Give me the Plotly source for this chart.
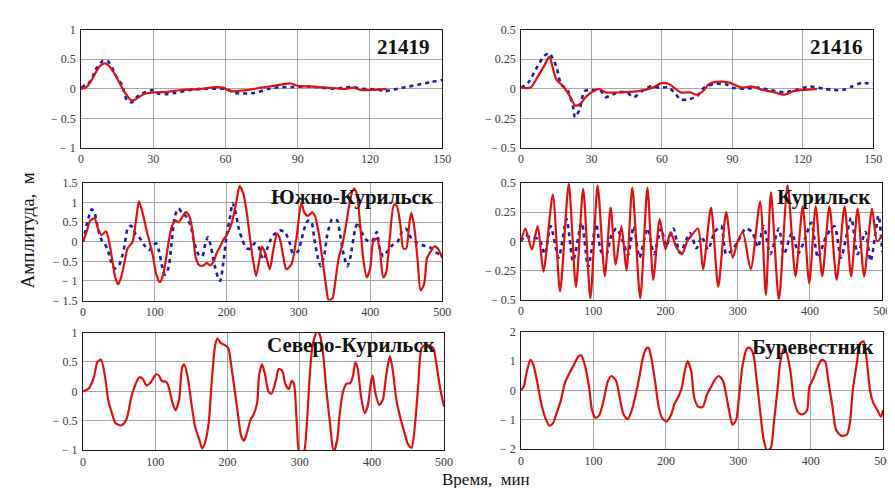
import plotly.graph_objects as go

# ---------------- data (time, amplitude) ----------------
# 21419 (t 0..150 min)
p21419_model = [(0,0),(2,0.02),(4,0.12),(6,0.27),(8,0.39),(10,0.43),(12,0.37),(14,0.25),(16,0.1),(18,-0.05),
                (21,-0.2),(23,-0.17),(26,-0.09),(30,-0.06),(36,-0.05),(42,-0.02),(50,0),(56,0.03),(59,0.02),
                (62,-0.04),(67,-0.03),(75,0.02),(80,0.05),(87,0.09),(90,0.05),(95,0.04),(102,0.02),(110,0),
                (113,0.02),(116,-0.02),(121,-0.02),(127,0)]
p21419_obs = [(0,0.02),(4,0.13),(6,0.32),(9,0.47),(11,0.47),(13,0.35),(15,0.18),(17,0.07),(19,-0.19),(21,-0.23),
              (24,-0.11),(30,-0.02),(32,-0.08),(35,-0.09),(39,-0.07),(45,-0.02),(50,0),(56,0),(60,0),(64,-0.07),
              (67,-0.08),(72,-0.07),(78,0),(83,0.03),(88,0.03),(94,0.04),(100,0.02),(105,0),(112,0.03),(117,0),
              (123,-0.01),(126,-0.04),(130,-0.01),(135,0.03),(140,0.07),(145,0.11),(150,0.15)]

# 21416 (t 0..150 min)
p21416_model = [(0,0.01),(4,0.01),(7,0.1),(10,0.2),(12,0.27),(15,0.08),(18,0.02),(21,-0.07),(23,-0.14),(25,-0.13),
                (28,-0.06),(33,0.0),(36,-0.03),(42,-0.03),(50,-0.02),(56,0.01),(60,0.05),(63,0.04),(68,-0.03),
                (72,-0.03),(75,-0.05),(78,-0.01),(80,0.04),(85,0.06),(89,0.05),(94,0.01),(98,0.02),(103,-0.01),
                (108,-0.03),(112,-0.05),(116,-0.02),(120,-0.01),(126,0)]
p21416_obs = [(0,0.01),(3,0.05),(7,0.19),(10,0.28),(12,0.3),(15,0.19),(17,0.04),(20,-0.02),(22,-0.14),(23,-0.24),
              (25,-0.17),(27,-0.02),(30,-0.01),(34,-0.02),(36,-0.07),(41,-0.03),(45,-0.03),(48,-0.07),(52,-0.01),
              (55,0.02),(59,0.01),(63,0.01),(66,-0.05),(68,-0.09),(71,-0.09),(75,-0.06),(78,0.01),(82,0.04),
              (87,0.04),(90,0.01),(95,0),(101,0.01),(106,-0.01),(112,-0.03),(117,-0.01),(123,0.02),(129,0),
              (133,-0.01),(137,-0.01),(141,0.02),(145,0.05),(150,0.04)]

# Южно-Курильск (t 0..500 min)
yk_model = [(0,0),(5,0.25),(10,0.54),(16,0.6),(21,0.33),(26,0.17),(32,0.27),(36,0.04),(41,-0.5),(45,-0.91),
            (49,-1.09),(53,-0.91),(58,-0.5),(62,-0.17),(69,0),(74,0.58),(78,1.03),(84,0.66),(88,0.33),(92,0.04),
            (97,-0.33),(102,-0.83),(107,-1.03),(111,-0.87),(115,-0.5),(120,0.08),(124,0.41),(129,0.54),(133,0.5),
            (139,0.66),(143,0.76),(148,0.66),(153,0.21),(157,-0.41),(162,-0.6),(168,-0.6),(172,-0.54),(177,-0.6),
            (182,-0.5),(186,-0.29),(191,-0.12),(195,0.04),(200,0.17),(205,0.37),(209,0.62),(214,1.07),(218,1.42),
            (223,1.24),(228,0.74),(232,0.17),(237,-0.5),(241,-0.87),(246,-0.41),(249,-0.12),(254,-0.3),(260,-0.7),
            (265,-0.2),(270,0.21),(274,0.08),(279,-0.4),(283,-0.7),(290,-0.58),(297,0.08),(304,1.0),(308,0.75),
            (313,0.66),(319,0.75),(323,0.66),(328,0.25),(333,-0.41),(338,-1.07),(342,-1.49),(347,-1.45),
            (352,-0.91),(356,-0.41),(361,-0.08),(366,0.41),(372,1.07),(377,1.36),(381,1.24),(386,0.41),(390,-0.41),
            (395,-0.91),(400,-0.66),(404,0),(409,0.08),(413,-0.17),(418,-0.91),(422,-0.79),(427,0.08),(433,0.95),
            (437,0.91),(442,0.41),(446,-0.17),(450,-0.17),(454,0.41),(457,0.74),(461,0.41),(466,-0.5),(470,-1.24),
            (475,-1.07),(479,-0.41),(484,-0.25),(489,-0.12),(494,-0.17),(500,-0.41)]
yk_obs = [(0,0),(6,0.5),(12,0.83),(16,0.74),(21,0.33),(26,0.04),(30,-0.04),(35,-0.25),(39,-0.5),(44,-0.68),
          (50,-0.6),(55,-0.33),(58,-0.08),(62,0.33),(67,0.41),(73,0.21),(78,0.12),(85,-0.08),(92,-0.21),(98,-0.08),
          (102,-0.04),(106,-0.25),(110,-0.62),(114,-0.84),(119,-0.66),(123,-0.08),(128,0.66),(133,0.85),(138,0.74),
          (143,0.66),(150,0.41),(154,0.04),(161,-0.33),(166,-0.37),(170,-0.08),(174,0.12),(178,-0.12),(183,-0.58),
          (188,-0.91),(191,-1.0),(195,-0.58),(200,0.17),(205,0.66),(208,0.99),(212,0.79),(217,0.33),(222,0.04),
          (228,-0.17),(233,-0.17),(239,-0.04),(244,-0.1),(248,-0.35),(252,-0.45),(256,-0.2),(260,0.0),(265,0.17),
          (274,0.29),(281,0.25),(288,-0.04),(292,-0.29),(299,-0.25),(304,0.04),(308,0.33),(313,0.54),(318,0.5),
          (322,0.08),(327,-0.41),(331,-0.62),(336,-0.33),(340,0.17),(347,0.58),(354,0.54),(358,0.17),(363,-0.33),
          (368,-0.62),(372,-0.41),(379,0.33),(383,0.5),(388,0.25),(395,0.04),(402,0),(409,0.25),(413,-0.17),
          (418,-0.37),(422,-0.29),(427,-0.17),(431,-0.08),(438,0),(445,0.29),(450,0.33),(456,0.12),(463,0),
          (472,-0.08),(479,-0.12),(486,-0.17),(493,-0.29),(500,-0.33)]

# Курильск (t 0..500 min)
kur_model = [(0,0),(6,0.11),(15,-0.07),(23,0.13),(31,-0.26),(44,0.4),(54,-0.43),(66,0.49),(76,-0.39),(86,0.45),
             (96,-0.49),(106,0.48),(116,-0.3),(124,0.29),(131,-0.2),(139,0.13),(146,-0.25),(154,0.46),(165,-0.49),
             (175,0.46),(183,-0.33),(192,0.19),(200,-0.07),(207,0.08),(215,-0.05),(223,-0.11),(230,0.0),(236,0.05),
             (245,0.11),(252,-0.24),(263,0.29),(273,-0.39),(284,0.25),(293,-0.14),(300,0.0),(307,0.08),(318,-0.24),
             (331,0.34),(339,-0.46),(346,0.42),(357,-0.5),(369,0.48),(380,-0.3),(390,0.3),(399,-0.36),(408,0.3),
             (417,-0.3),(427,0.3),(437,-0.33),(448,0.3),(457,-0.3),(466,0.28),(475,-0.3),(486,0.28),(493,0.0),
             (500,0.05)]
kur_obs = [(0,0),(6,0.05),(15,0.03),(25,0.02),(33,-0.11),(41,0.13),(52,-0.14),(63,0.19),(72,-0.17),(84,0.16),
           (93,-0.22),(104,0.15),(111,-0.09),(118,-0.11),(125,0.05),(132,0.11),(141,0),(148,-0.12),(156,0.13),
           (164,-0.14),(175,0.11),(184,-0.11),(194,0.11),(201,-0.04),(211,0.11),(220,-0.1),(234,0.07),(243,-0.06),
           (250,0.04),(259,-0.07),(268,0.08),(277,0.13),(284,-0.11),(293,-0.07),(302,0.02),(311,0.11),(320,0.08),
           (328,-0.05),(336,0.13),(345,-0.11),(357,0.11),(364,-0.11),(375,0.07),(384,-0.1),(393,0.02),(402,0.16),
           (411,-0.14),(423,0.05),(434,0.13),(443,-0.14),(457,0.2),(466,-0.11),(477,0.08),(484,-0.17),(495,0.22),
           (500,-0.09)]

# Северо-Курильск (t 0..500 min)
sk_model = [(0,0),(8,0.05),(15,0.24),(20,0.5),(25,0.54),(30,0.29),(35,-0.15),(40,-0.37),(45,-0.54),(53,-0.58),
            (60,-0.48),(67,-0.09),(73,0.13),(78,0.24),(83,0.21),(88,0.1),(94,0.16),(101,0.29),(105,0.27),(109,0.18),
            (115,0.16),(118,0.1),(124,-0.2),(128,-0.32),(133,-0.15),(137,0.4),(140,0.46),(145,0.24),(150,-0.2),
            (155,-0.59),(161,-0.82),(165,-0.97),(169,-0.87),(174,-0.54),(178,0.13),(183,0.79),(186,0.9),(191,0.82),
            (196,0.79),(201,0.74),(205,0.46),(210,0.02),(215,-0.43),(219,-0.76),(223,-0.84),(227,-0.7),(232,-0.48),
            (236,-0.4),(241,-0.2),(244,0.29),(248,0.46),(252,0.29),(257,-0.01),(261,-0.04),(267,0.18),(271,0.38),
            (276,0.35),(280,0.13),(285,0.04),(289,0.18),(292,0.13),(296,-0.54),(300,-1.08),(305,-1.08),(310,-0.54),
            (314,0.29),(318,0.79),(324,1.02),(328,0.96),(333,0.57),(337,0.02),(342,-0.54),(347,-1.04),(352,-0.82),
            (355,-0.43),(360,-0.01),(365,0.13),(370,0.14),(374,0.27),(377,0.49),(380,0.41),(385,-0.09),(390,-0.37),
            (394,-0.26),(399,0.18),(401,0.27),(405,-0.04),(410,-0.23),(415,-0.15),(420,0.29),(425,0.6),(429,0.35),
            (434,-0.15),(440,-0.48),(445,-0.7),(450,-0.9),(455,-0.96),(459,-0.65),(464,0.07),(469,0.74),(475,0.79),
            (481,0.77),(485,0.74),(490,0.41),(495,0.02),(500,-0.26)]

# Буревестник (t 0..500 min)
bur_model = [(0,0),(4,0.15),(8,0.65),(13,1.04),(17,0.87),(22,0.32),(27,-0.34),(33,-0.9),(39,-1.2),(44,-1.12),
             (49,-0.78),(55,-0.34),(60,0.21),(67,0.6),(73,0.87),(79,1.15),(83,1.2),(88,0.87),(94,0.1),(98,-0.67),
             (103,-0.93),(108,-0.84),(114,-0.34),(120,0.32),(125,0.49),(131,0.34),(135,-0.07),(141,-0.78),
             (147,-0.98),(153,-0.67),(158,-0.18),(164,0.54),(168,1.09),(173,1.43),(176,1.45),(180,1.09),(185,0.32),
             (190,-0.56),(195,-0.95),(201,-1.06),(207,-0.84),(212,-0.45),(217,-0.23),(222,0.1),(226,0.65),(230,1.0),
             (235,0.65),(239,-0.23),(245,-0.56),(251,-0.56),(257,-0.12),(262,0.1),(267,0.34),(273,0.49),(279,0.32),
             (283,-0.12),(288,-0.78),(292,-1.17),(297,-1.0),(301,-0.23),(306,0.87),(312,1.43),(316,1.45),(321,1.2),
             (325,0.43),(330,-0.67),(335,-1.67),(340,-2.05),(345,-1.95),(349,-1.12),(354,-0.01),(358,0.98),
             (363,1.43),(367,1.26),(372,0.65),(377,-0.34),(383,-0.76),(389,-0.81),(395,-0.67),(398,0.1),(404,0.43),
             (409,0.76),(415,1.04),(420,0.98),(424,0.38),(430,-0.56),(435,-1.34),(442,-1.54),(450,-1.5),(454,-1.12),
             (458,-0.01),(464,0.98),(468,1.59),(473,1.67),(477,1.09),(482,-0.01),(486,-0.4),(492,-0.67),(497,-0.9),
             (500,-0.67)]

# axis ranges and tick labels
ticks_x150 = [0, 30, 60, 90, 120, 150]
ticks_x500 = [0, 100, 200, 300, 400, 500]
yt_1 = ([-1, -0.5, 0, 0.5, 1], ["\u2212 1", "\u2212 0.5", "0", "0.5", "1"])
yt_05 = ([-0.5, -0.25, 0, 0.25, 0.5], ["\u2212 0.5", "\u2212 0.25", "0", "0.25", "0.5"])
yt_15 = ([-1.5, -1, -0.5, 0, 0.5, 1, 1.5], ["\u2212 1.5", "\u2212 1", "\u2212 0.5", "0", "0.5", "1", "1.5"])
yt_2 = ([-2, -1, 0, 1, 2], ["\u2212 2", "\u2212 1", "0", "1", "2"])

RED = "#e01010"
BLUE = "#1a1ab4"
FONT = "Liberation Serif, Times New Roman, DejaVu Serif, serif"

W, H = 895, 488

# panel boxes in pixels: (left, top, right, bottom)
panels = [
    dict(box=(71, 15, 437, 137), xr=150, xt=ticks_x150, yt=yt_1, model=p21419_model, obs=p21419_obs, name="21419"),
    dict(box=(517, 15, 874, 137), xr=150, xt=ticks_x150, yt=yt_05, model=p21416_model, obs=p21416_obs, name="21416"),
    dict(box=(73, 173, 437, 294), xr=500, xt=ticks_x500, yt=yt_15, model=yk_model, obs=yk_obs, name="Южно-Курильск"),
    dict(box=(517, 173, 883, 293), xr=500, xt=ticks_x500, yt=yt_05, model=kur_model, obs=kur_obs, name="Курильск"),
    dict(box=(73, 327, 439, 448), xr=500, xt=ticks_x500, yt=yt_1, model=sk_model, obs=None, name="Северо-Курильск"),
    dict(box=(517, 326, 884, 447), xr=500, xt=ticks_x500, yt=yt_2, model=bur_model, obs=None, name="Буревестник"),
]
label_pos = [(427, 33), (866, 33), (431, 187), (874, 187), (433, 340), (878, 342)]

fig = go.Figure()
layout = {}
annotations = []
for i, p in enumerate(panels):
    n = i + 1
    xa = "x" if n == 1 else f"x{n}"
    ya = "y" if n == 1 else f"y{n}"
    l, t, r, b = p["box"]
    yv, ytxt = p["yt"]
    common = dict(showgrid=True, gridcolor="#a6a6a6", gridwidth=1, zeroline=False,
                  showline=True, linecolor="#1a1a1a", linewidth=1, mirror=True, ticks="",
                  tickfont=dict(family=FONT, size=12, color="#3a3a3a"))
    layout["xaxis" if n == 1 else f"xaxis{n}"] = dict(
        domain=[l / W, r / W], range=[0, p["xr"]], tickvals=p["xt"],
        ticktext=[str(v) for v in p["xt"]], anchor=ya, ticklabelstandoff=0, **common)
    layout["yaxis" if n == 1 else f"yaxis{n}"] = dict(
        domain=[1 - b / H, 1 - t / H], range=[yv[0], yv[-1]], tickvals=yv, ticktext=ytxt,
        anchor=xa, ticklabelstandoff=2, **common)
    if p["obs"] is not None:
        fig.add_trace(go.Scatter(x=[q[0] for q in p["obs"]], y=[q[1] for q in p["obs"]],
                                 mode="lines", xaxis=xa, yaxis=ya, showlegend=False,
                                 line=dict(color=BLUE, width=2.6, dash="4px,4px", shape="spline", smoothing=0.7)))
    fig.add_trace(go.Scatter(x=[q[0] for q in p["model"]], y=[q[1] for q in p["model"]],
                             mode="lines", xaxis=xa, yaxis=ya, showlegend=False,
                             line=dict(color=RED, width=2.2, shape="spline", smoothing=0.7)))
    lx, ly = label_pos[i]
    annotations.append(dict(text=f"<b>{p['name']}</b>", x=lx / W, y=1 - ly / H, xref="paper", yref="paper",
                            xanchor="right", yanchor="middle", showarrow=False,
                            font=dict(family=FONT, size=21, color="#111111")))

annotations.append(dict(text="Амплитуда,\u00a0\u00a0м", x=17 / W, y=1 - 222 / H, xref="paper", yref="paper",
                        textangle=-90, showarrow=False, xanchor="center", yanchor="middle",
                        font=dict(family=FONT, size=19, color="#111111")))
annotations.append(dict(text="Время,\u00a0\u00a0мин", x=481 / W, y=0, xref="paper", yref="paper",
                        showarrow=False, xanchor="center", yanchor="bottom", borderpad=0, yshift=-1,
                        font=dict(family=FONT, size=17, color="#111111")))

fig.update_layout(width=W, height=H, margin=dict(l=0, r=0, t=0, b=0),
                  paper_bgcolor="white", plot_bgcolor="white",
                  annotations=annotations, **layout)
fig.write_html("out.html")
